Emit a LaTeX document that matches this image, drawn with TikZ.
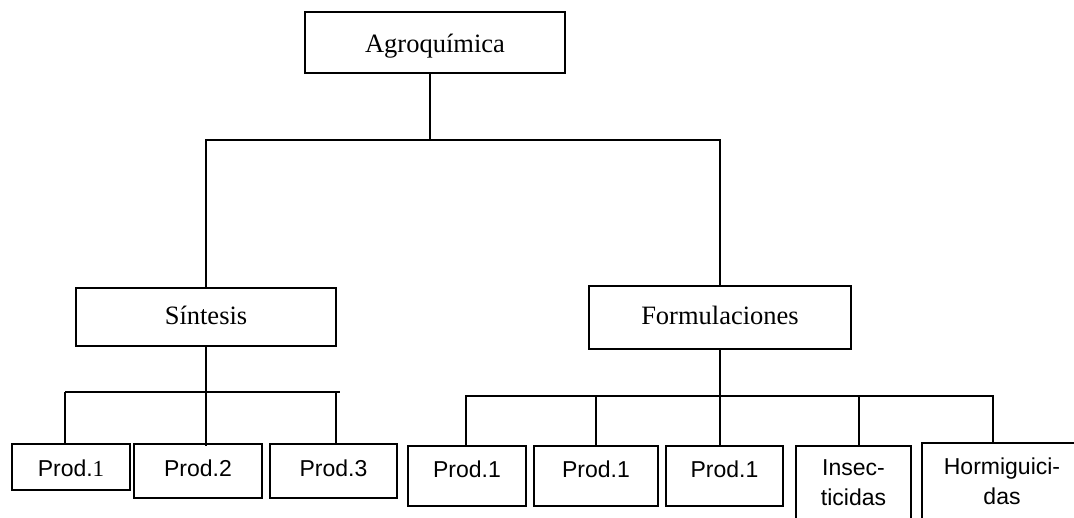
\documentclass[tikz,border=0pt]{standalone}
\usepackage{fontspec}
\setmainfont{Liberation Serif}
\newfontfamily\arialfont{Liberation Sans}
\newfontfamily\serifdigit{Liberation Serif}

\tikzset{
  headbox/.style={draw, line width=1.8pt, inner sep=0pt,
    font=\fontsize{26.5}{30}\selectfont},
  leafbox/.style={draw, line width=1.8pt, inner sep=0pt,
    font=\arialfont\fontsize{23}{30}\selectfont},
  link/.style={line width=1.8pt},
}

\begin{document}
\begin{tikzpicture}[x=1pt, y=-1pt]
  % page frame
  \clip (0,0) rectangle (1074,517);
  \fill[white] (0,0) rectangle (1074,517);

  % top level
  \node[headbox, minimum width=260pt, text height=40pt, text depth=21pt] (agro) at (435,42.5) {Agroquímica};

  % second level
  \node[headbox, minimum width=260pt, text height=36pt, text depth=22pt] (sint) at (206,317) {Síntesis};
  \node[headbox, minimum width=262pt, text height=38pt, text depth=25pt] (form) at (720,317.5) {Formulaciones};

  % products of the synthesis branch
  \node[leafbox, minimum width=118pt, text height=32pt, text depth=14pt] (lp1) at (71,467) {Prod.{\serifdigit 1}};
  \node[leafbox, minimum width=128pt, text height=32pt, text depth=22pt] (lp2) at (198,471) {Prod.2};
  \node[leafbox, minimum width=127pt, text height=32pt, text depth=22pt] (lp3) at (333.5,471) {Prod.3};

  % products of the formulation branch
  \node[leafbox, minimum width=118pt, text height=31pt, text depth=29pt] (rp1) at (467,476) {Prod.1};
  \node[leafbox, minimum width=124pt, text height=31pt, text depth=29pt] (rp2) at (596,476) {Prod.1};
  \node[leafbox, minimum width=117pt, text height=31pt, text depth=29pt] (rp3) at (724.5,476) {Prod.1};
  \node[leafbox, minimum width=115pt, text height=29pt, text depth=71pt] (ins) at (853.5,496)
    {\begin{tabular}[t]{@{}c@{}}Insec-\\ticidas\end{tabular}};
  \node[leafbox, minimum width=160pt, text height=31pt, text depth=71pt] (hor) at (1002,494)
    {\begin{tabular}[t]{@{}c@{}}Hormiguici-\\das\end{tabular}};

  % first split
  \coordinate (bus) at (430,140);
  \draw[link] (agro.south -| bus) -- (bus);
  \draw[link] (sint.north) |- (bus) -| (form.north);

  % synthesis split
  \coordinate (sl) at (65,392);
  \coordinate (sr) at (340,392);
  \coordinate (s3) at (336,392);
  \draw[link] (sint.south) -- ([yshift=-3pt]sint.south |- lp2.north);
  \draw[link] (sl) -- (sr);
  \draw[link] (sl) -- ([yshift=-2pt]sl |- lp1.north);
  \draw[link] (s3) -- ([yshift=-2pt]s3 |- lp3.north);

  % formulation split
  \coordinate (fl) at (466,396);
  \coordinate (f2) at (596,396);
  \coordinate (f4) at (859,396);
  \coordinate (fr) at (993,396);
  \draw[link] (form.south) -- (form.south |- rp3.north);
  \draw[link] (fl |- rp1.north) -- (fl) -- (fr) -- (fr |- hor.north);
  \draw[link] (f2) -- (f2 |- rp2.north);
  \draw[link] (f4) -- (f4 |- ins.north);
\end{tikzpicture}
\end{document}
